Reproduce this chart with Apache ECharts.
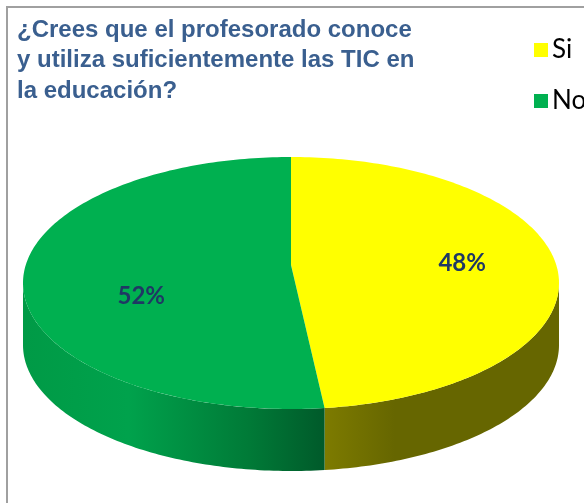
<!DOCTYPE html>
<html><head><meta charset="utf-8">
<script src="https://cdn.jsdelivr.net/npm/echarts@6/dist/echarts.min.js"></script>
<style>html,body{margin:0;padding:0;background:#fff}#c{width:584px;height:503px}</style>
</head><body><div id="c"></div>
<script>
// ---- data ----
const categories = ['Si', 'No'];
const values = [48, 52];
const titleText = '¿Crees que el profesorado conoce\ny utiliza suficientemente las TIC en\nla educación?';

// ---- style ----
const topColors = ['#ffff00', '#00b050'];
const sideStops = [
  [[0, '#7d7b00'], [0.3, '#666600'], [1, '#666600']],
  [[0, '#009a46'], [0.35, '#00a24c'], [0.75, '#007a37'], [1, '#005a2a']]
];
const labelDy = [-8, 17];
const labelR = [0.64, 0.56];

const G = { cx: 291, cy: 283, rx: 268, ry: 126, ax: 291, ay: 265, depth: 62 };
const total = values.reduce((a, b) => a + b, 0);
const starts = [];
let acc = 0;
values.forEach(v => { starts.push(acc / total * 360); acc += v; });

function pt(t, dy) {
  const r = t * Math.PI / 180;
  return [G.cx + G.rx * Math.sin(r), G.cy - G.ry * Math.cos(r) + (dy || 0)];
}
function arc(a, b, dy) {
  const pts = [];
  const n = Math.max(2, Math.ceil(Math.abs(b - a)));
  for (let i = 0; i <= n; i++) pts.push(pt(a + (b - a) * i / n, dy));
  return pts;
}

function makeRender(idx) {
  return function (params, api) {
    const v = api.value(0);
    const a = starts[idx];
    const b = a + v / total * 360;
    const children = [];
    const s = Math.max(a, 90), e = Math.min(b, 270);
    if (e > s) {
      const topArc = arc(s, e, 0);
      const botArc = arc(e, s, G.depth);
      const xs = topArc.map(p => p[0]);
      const x0 = Math.min.apply(null, xs), x1 = Math.max.apply(null, xs);
      children.push({
        type: 'polygon',
        shape: { points: topArc.concat(botArc) },
        style: {
          fill: new echarts.graphic.LinearGradient(x0, 0, x1, 0,
            sideStops[idx].map(st => ({ offset: st[0], color: st[1] })), true)
        }
      });
    }
    children.push({
      type: 'polygon',
      shape: { points: [[G.ax, G.ay]].concat(arc(a, b, 0)) },
      style: { fill: topColors[idx] }
    });
    const mid = (a + b) / 2;
    const mp = pt(mid, 0);
    const lx = G.ax + labelR[idx] * (mp[0] - G.ax);
    const ly = G.ay + labelR[idx] * (mp[1] - G.ay) + labelDy[idx];
    children.push({
      type: 'text',
      x: lx, y: ly,
      style: {
        text: Math.round(v / total * 100) + '%',
        fill: '#1f3864',
        font: 'bold 24px Lato',
        align: 'center',
        verticalAlign: 'middle'
      }
    });
    return { type: 'group', children: children };
  };
}

const chart = echarts.init(document.getElementById('c'), null, { renderer: 'canvas' });
chart.setOption({
  animation: false,
  title: {
    text: titleText,
    left: 17, top: 15, padding: 0,
    textStyle: {
      fontFamily: 'Liberation Sans', fontWeight: 'bold', fontSize: 24,
      color: '#3a5f8f', lineHeight: 30.5
    }
  },
  legend: {
    orient: 'vertical', left: 534, top: 37, padding: 0,
    itemWidth: 14, itemHeight: 14, itemGap: 25,
    icon: 'rect',
    data: categories,
    textStyle: { fontFamily: 'Lato', fontSize: 26, color: '#000', padding: [0, 0, 0, -1] }
  },
  graphic: [{
    type: 'rect', silent: true,
    shape: { x: 7, y: 7, width: 800, height: 800 },
    style: { fill: 'none', stroke: '#a0a0a0', lineWidth: 2 }
  }],
  series: categories.map((name, i) => ({
    type: 'custom',
    name: name,
    coordinateSystem: 'none',
    itemStyle: { color: topColors[i] },
    renderItem: makeRender(i),
    data: [[values[i]]]
  }))
});
</script></body></html>
